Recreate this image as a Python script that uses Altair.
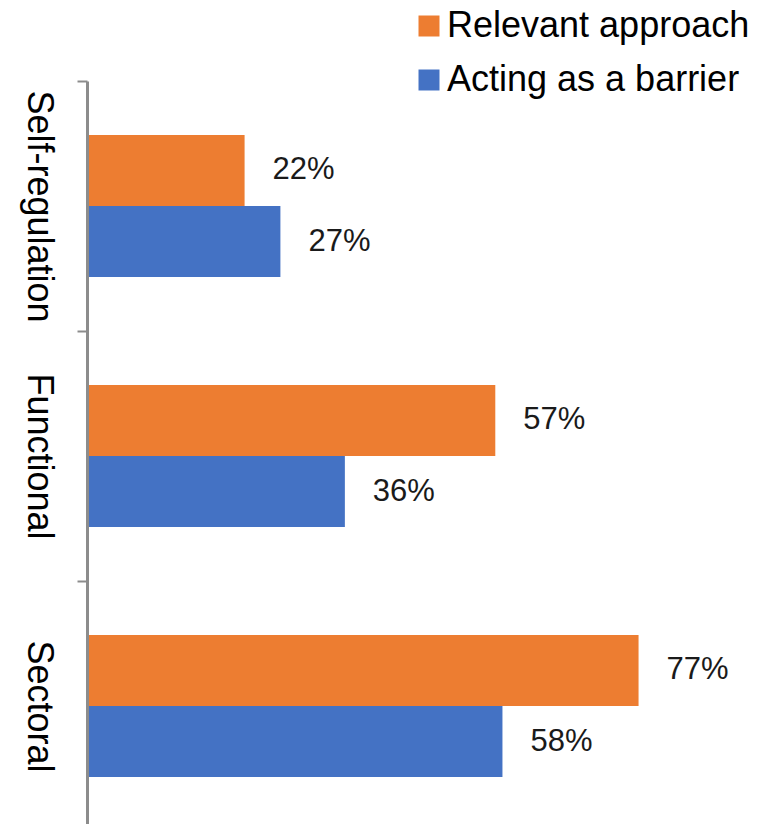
import altair as alt
import pandas as pd

categories = ["Self-regulation", "Functional", "Sectoral"]
series = ["Relevant approach", "Acting as a barrier"]
relevant = [22, 57, 77]
barrier = [27, 36, 58]
colors = ["#ED7D31", "#4472C4"]

rows = []
for i, c in enumerate(categories):
    rows.append({"category": c, "series": series[0], "value": relevant[i]})
    rows.append({"category": c, "series": series[1], "value": barrier[i]})
df = pd.DataFrame(rows)
df["label"] = df["value"].astype(str) + "%"

FONT = "Liberation Sans"

y = alt.Y(
    "category:N",
    sort=categories,
    scale=alt.Scale(paddingInner=0, paddingOuter=0),
    axis=alt.Axis(
        title=None, tickBand="extent", labelAngle=90, labelAlign="center",
        labelBaseline="top", labelFontSize=36, labelFont=FONT, labelColor="#000000",
        labelPadding=22, labelLimit=400, tickSize=10, tickWidth=2, tickColor="#8c8c8c",
        domainColor="#8c8c8c", domainWidth=3, grid=False, zindex=1,
    ),
)
x = alt.X("value:Q", scale=alt.Scale(domain=[0, 92], nice=False, zero=True), axis=None)
yoff = alt.YOffset("series:N", sort=series,
                   scale=alt.Scale(domain=series, paddingOuter=0.76, paddingInner=0))

bars = alt.Chart(df).mark_bar().encode(
    x=x, y=y, yOffset=yoff,
    color=alt.Color(
        "series:N", sort=series,
        scale=alt.Scale(domain=series, range=colors),
        legend=alt.Legend(
            title=None, orient="none", legendX=324, legendY=-73,
            symbolType="square", symbolSize=441, symbolStrokeWidth=0,
            symbolOpacity=1, labelFontSize=36, labelFont=FONT, labelColor="#000000",
            labelOffset=0, rowPadding=18, labelLimit=400,
        ),
    ),
)
text = alt.Chart(df).mark_text(
    align="left", baseline="middle", dx=28, fontSize=31, font=FONT, color="#1a1a1a"
).encode(x=x, y=y, yOffset=yoff, text="label:N")

chart = alt.layer(bars, text).properties(
    width=659, height=750,
    padding={"left": 79, "top": 73, "right": 7, "bottom": 0},
    autosize=alt.AutoSizeParams(type="none"),
).configure_view(stroke=None)

chart.save("out.html", embed_options={"renderer": "svg", "actions": False})
